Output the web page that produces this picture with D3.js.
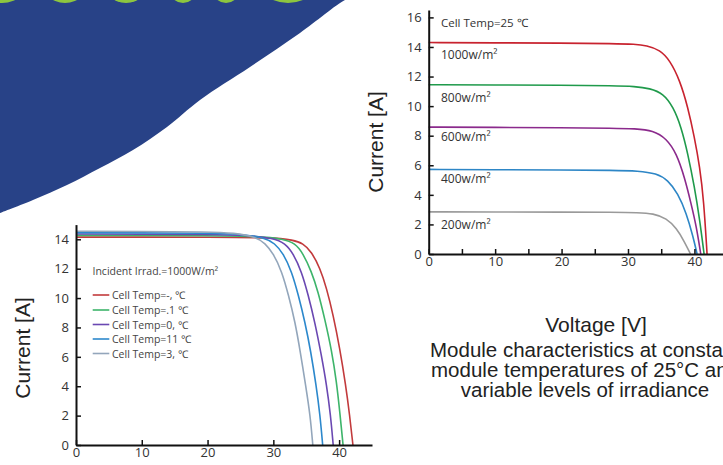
<!DOCTYPE html>
<html>
<head>
<meta charset="utf-8">
<script src="https://cdn.jsdelivr.net/npm/d3@7"></script>
<style>
  body { margin: 0; background: #fff; }
  svg { display: block; }
</style>
</head>
<body>
<svg id="chart" width="723" height="465"></svg>
<script>
// right chart: irradiance curves at 25 C, [voltage, current]
const irrLabels = ["1000w/m²", "800w/m²", "600w/m²", "400w/m²", "200w/m²"];
const irrColors = ["#c8232f", "#1f9a4b", "#8b2a8c", "#2d86c6", "#9a9a9a"];
const irr1000 = [[0,14.3],[10,14.28],[20,14.26],[28,14.23],[31,14.19],[32.8,14.1],[34.8,13.8],[36.3,13.1],[37.8,11.75],[39.0,9.95],[40.0,7.9],[40.8,5.9],[41.4,3.65],[41.9,0]];
const irr800 = [[0,11.45],[10,11.43],[20,11.41],[28,11.38],[31,11.33],[33.3,11.2],[35.3,10.86],[36.8,9.95],[38.0,8.6],[39.0,6.8],[40.0,4.55],[40.8,2.3],[41.45,0]];
const irr600 = [[0,8.58],[10,8.56],[20,8.54],[28,8.51],[31,8.47],[33.8,8.36],[35.8,7.8],[37.3,6.8],[38.5,5.2],[39.5,3.4],[40.3,1.85],[40.95,0]];
const irr400 = [[0,5.72],[10,5.7],[20,5.68],[28,5.66],[31.5,5.62],[34.3,5.45],[36.0,5.0],[37.5,4.1],[38.8,2.75],[39.8,1.17],[40.4,0]];
const irr200 = [[0,2.85],[10,2.84],[20,2.83],[28,2.82],[31.5,2.8],[33.8,2.74],[35.8,2.41],[37.3,1.74],[38.5,0.83],[39.4,0]];
const irrSeries = [irr1000, irr800, irr600, irr400, irr200];

// left chart: temperature curves at 1000 W/m2
const tempLabels = ["Cell Temp=-,  ℃", "Cell Temp=.1  ℃", "Cell Temp=0,  ℃", "Cell Temp=11 ℃", "Cell Temp=3,  ℃"];
const tempColors = ["#c23a3c", "#3db46a", "#6a48b2", "#2c88cc", "#93a6bb"];
const tempA = [[0,14.15],[10,14.15],[20,14.14],[30,14.12],[33.0,13.95],[34.5,13.73],[35.8,13.16],[37.1,12.03],[38.1,10.67],[39.1,8.85],[40.1,6.58],[41.0,4.08],[41.6,2.04],[42.1,0]];
const tempB = [[0,14.27],[10,14.26],[20,14.25],[28,14.2],[31.5,14.02],[33.3,13.73],[34.5,13.05],[35.8,11.8],[36.8,10.44],[37.8,8.62],[38.9,6.35],[39.6,4.31],[40.1,2.27],[40.6,0]];
const tempC = [[0,14.36],[10,14.35],[20,14.33],[26,14.28],[30.0,14.07],[31.8,13.73],[33.0,13.05],[34.3,11.8],[35.3,10.21],[36.3,8.39],[37.3,6.13],[38.1,4.08],[38.7,2.04],[39.1,0]];
const tempD = [[0,14.45],[10,14.44],[20,14.42],[25,14.36],[28.7,14.11],[30.2,13.73],[31.5,13.05],[32.8,11.8],[33.8,10.21],[34.8,8.39],[35.7,6.35],[36.5,4.08],[37.1,2.04],[37.5,0]];
const tempE = [[0,14.55],[10,14.53],[20,14.5],[24,14.44],[27.5,14.14],[28.7,13.73],[30.0,13.05],[31.3,11.8],[32.3,10.21],[33.3,8.39],[34.1,6.35],[34.9,4.08],[35.6,2.04],[36.0,0]];
const tempSeries = [tempA, tempB, tempC, tempD, tempE];

const xTicksRight = [0,5,10,15,20,25,30,35,40];
const xTicksLeft = [0,10,20,30,40];
const yTicksRight = [0,2,4,6,8,10,12,14,16];
const yTicksLeft = [0,2,4,6,8,10,12,14];

const svg = d3.select("#chart");
const tickFont = "'Open Sans', sans-serif";
const titleFont = "'Liberation Sans', Arial, sans-serif";

// background decoration (blue banner + green lettering peeking in)
const bannerEdge = [[352,-2],[345,0],[300,33],[250,67],[200,100],[167,127],[133,150],[100,168],[67,185],[33,200],[0,213]];
svg.append("path")
    .attr("d", "M0,-2 " + d3.line().curve(d3.curveCatmullRom)(bannerEdge).replace(/^M/, "L") + " Z")
    .attr("fill", "#284287");

// [centre x, visible width] of each letter bottom
const greenBumps = [[2,26],[65,24],[126,23],[183,17],[226,17],[288,30]];
svg.selectAll(".bump").data(greenBumps).enter()
    .append("circle")
    .attr("class", "bump")
    .attr("cx", d => d[0])
    .attr("r", d => (d[1] * d[1] / 4 + 9) / 6)
    .attr("cy", d => 3 - (d[1] * d[1] / 4 + 9) / 6)
    .attr("fill", "#8dc63f");

function styleAxis(g) {
    g.select(".domain").attr("stroke", "#111").attr("stroke-width", 2);
    g.selectAll(".tick line").attr("stroke", "#111").attr("stroke-width", 1.5);
    g.selectAll(".tick text").attr("fill", "#333").style("font-family", tickFont).style("font-size", "13px");
}

function drawChart(opt) {
    var x = d3.scaleLinear().domain(opt.xDomain).range(opt.xRange);
    var y = d3.scaleLinear().domain(opt.yDomain).range(opt.yRange);

    var line = d3.line()
        .x(d => x(d[0]))
        .y(d => y(d[1]))
        .curve(d3.curveBasis);

    var lines = svg.append("g");
    lines.selectAll("path")
        .data(opt.series)
        .enter()
        .append("path")
            .attr("d", d => line(d))
            .attr("fill", "none")
            .attr("stroke", (d,i) => opt.colors[i])
            .attr("stroke-width", 1.6);

    var xAxis = d3.axisBottom(x)
        .tickValues(opt.xTicks)
        .tickSizeInner(-5)
        .tickSizeOuter(0)
        .tickPadding(3)
        .tickFormat(v => v % 10 === 0 ? v : "");

    var yAxis = d3.axisLeft(y)
        .tickValues(opt.yTicks)
        .tickSizeInner(-5)
        .tickSizeOuter(0)
        .tickPadding(7);

    svg.append("g")
        .attr("transform", `translate(0,${opt.yRange[0]})`)
        .call(xAxis)
        .call(styleAxis);

    svg.append("g")
        .attr("transform", `translate(${opt.xRange[0]},0)`)
        .call(yAxis)
        .call(styleAxis);

    svg.append("text")
        .attr("transform", `translate(${opt.yTitleX},${opt.yTitleY}) rotate(-90)`)
        .attr("text-anchor", "middle")
        .attr("fill", "#222")
        .style("font-family", titleFont)
        .style("font-size", "21px")
        .text("Current [A]");

    return { x: x, y: y };
}

// right chart
drawChart({
    xDomain: [0, 44.3], xRange: [428.7, 723],
    yDomain: [0, 16.5], yRange: [254, 10],
    series: irrSeries, colors: irrColors,
    xTicks: xTicksRight, yTicks: yTicksRight,
    yTitleX: 383, yTitleY: 142
});

svg.append("text")
    .attr("x", 441).attr("y", 27)
    .attr("fill", "#333")
    .style("font-family", tickFont).style("font-size", "11.5px")
    .text("Cell Temp=25 ℃");

const irrLabelY = [59, 102, 141, 183, 229];
svg.selectAll(".irr-label").data(irrLabels).enter()
    .append("text")
    .attr("class", "irr-label")
    .attr("x", 441)
    .attr("y", (d,i) => irrLabelY[i])
    .attr("fill", "#333")
    .style("font-family", tickFont).style("font-size", "12px")
    .text(d => d);

svg.append("text")
    .attr("x", 596).attr("y", 332)
    .attr("text-anchor", "middle")
    .attr("fill", "#222")
    .style("font-family", titleFont).style("font-size", "21px")
    .text("Voltage [V]");

const captionLines = ["Module characteristics at constant", "module temperatures of 25°C and", "variable levels of irradiance"];
svg.selectAll(".caption").data(captionLines).enter()
    .append("text")
    .attr("class", "caption")
    .attr("x", 585)
    .attr("y", (d,i) => 357 + i * 20)
    .attr("text-anchor", "middle")
    .attr("fill", "#222")
    .style("font-family", titleFont).style("font-size", "20.5px")
    .text(d => d);

// left chart
drawChart({
    xDomain: [0, 45], xRange: [76, 372],
    yDomain: [0, 15], yRange: [445, 224.6],
    series: tempSeries, colors: tempColors,
    xTicks: xTicksLeft, yTicks: yTicksLeft,
    yTitleX: 30, yTitleY: 348
});

svg.append("text")
    .attr("x", 92.5).attr("y", 275)
    .attr("fill", "#444")
    .style("font-family", tickFont).style("font-size", "10.5px")
    .text("Incident Irrad.=1000W/m²");

const legendY = [295, 310, 324.5, 339, 353.5];
var legend = svg.append("g");
legend.selectAll("line").data(tempLabels).enter()
    .append("line")
    .attr("x1", 92.7).attr("x2", 109.3)
    .attr("y1", (d,i) => legendY[i]).attr("y2", (d,i) => legendY[i])
    .attr("stroke", (d,i) => tempColors[i])
    .attr("stroke-width", 1.6);
legend.selectAll("text").data(tempLabels).enter()
    .append("text")
    .attr("x", 112)
    .attr("y", (d,i) => legendY[i] + 4)
    .attr("fill", "#444")
    .style("font-family", tickFont).style("font-size", "10.5px")
    .text(d => d);
</script>
</body>
</html>
